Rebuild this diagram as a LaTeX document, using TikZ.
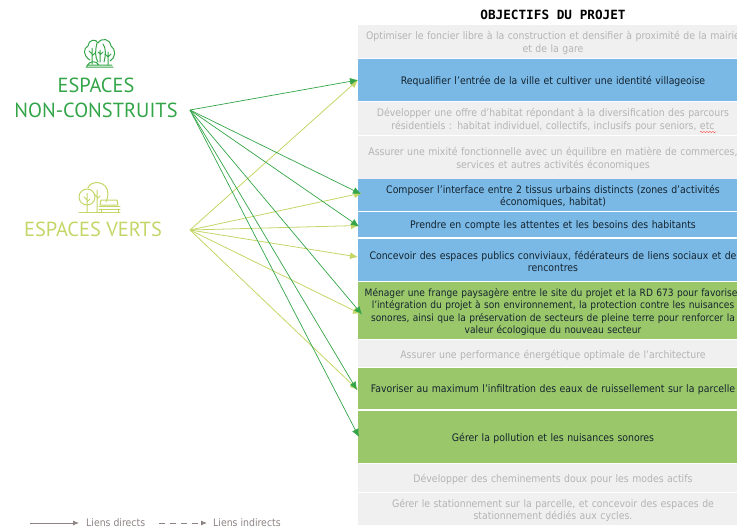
\documentclass[tikz,border=0pt]{standalone}
\usepackage{fontspec}
\usepackage{xcolor}
\setmainfont{DejaVu Sans Condensed}
\newfontfamily\titlefont{DejaVu Sans Mono}
\newfontfamily\headfont{PT Sans}
\usetikzlibrary{arrows.meta,positioning,decorations.pathmorphing}
\definecolor{rowgrey}{HTML}{F0F0F0}
\definecolor{rowblue}{HTML}{7AB8E6}
\definecolor{rowgreen}{HTML}{9BC76B}
\definecolor{txtgrey}{HTML}{B4B4B4}
\definecolor{txtdark}{HTML}{14242E}
\definecolor{darkgreen}{HTML}{33A548}
\definecolor{lightgreen}{HTML}{C3D667}
\definecolor{legendgrey}{HTML}{8E8484}

\begin{document}
\begin{tikzpicture}[x=1pt,y=-1pt,
    objrow/.style={minimum width=390pt,text width=390pt,align=center,inner sep=0pt,outer sep=0pt,
      font=\fontsize{10.4}{12.2}\selectfont,anchor=north west,
      execute at begin node={\leavevmode\vadjust pre{\vskip 3pt}}},
    offrow/.style={objrow,fill=rowgrey,text=txtgrey},
    bluerow/.style={objrow,fill=rowblue,text=txtdark},
    greenrow/.style={objrow,fill=rowgreen,text=txtdark},
    heading/.style={align=center,font=\headfont\fontsize{20.4}{25}\selectfont},
    dlink/.style={->,>={Latex[length=8pt,width=7pt]},darkgreen,line width=0.7pt},
    llink/.style={->,>={Latex[length=8pt,width=7pt]},lightgreen,line width=0.8pt},
    legendline/.style={->,>={Latex[length=6pt,width=5pt]},legendgrey,line width=0.8pt},
    legendtext/.style={text=legendgrey,font=\fontsize{10.4}{12}\selectfont,inner sep=0pt,anchor=west}]

    \useasboundingbox (0,0) rectangle (737,528);

    \node[font=\titlefont\bfseries\fontsize{12.7}{14}\selectfont] (title) at (553,14.5) {OBJECTIFS DU PROJET};

    % objectives, top to bottom
    \node[offrow,minimum height=33pt] (opt) at (358,25) {Optimiser le foncier libre à la construction et densifier à proximité de la mairie\\et de la gare};
    \node[bluerow,minimum height=42pt,below=1pt of opt.south west,anchor=north west] (req) {Requalifier l’entrée de la ville et cultiver une identité villageoise};
    \node[offrow,minimum height=33pt,below=1pt of req.south west,anchor=north west] (hab) {Développer une offre d’habitat répondant à la diversification des parcours\\résidentiels : habitat individuel, collectifs, inclusifs pour seniors, etc};
    \node[offrow,minimum height=43pt,below=1pt of hab.south west,anchor=north west] (mix) {Assurer une mixité fonctionnelle avec un équilibre en matière de commerces,\\services et autres activités économiques};
    \node[bluerow,minimum height=32pt,below=0pt of mix.south west,anchor=north west] (iface) {Composer l’interface entre 2 tissus urbains distincts (zones d’activités\\économiques, habitat)};
    \node[bluerow,minimum height=25pt,below=1pt of iface.south west,anchor=north west] (att) {Prendre en compte les attentes et les besoins des habitants};
    \node[bluerow,minimum height=42pt,below=2pt of att.south west,anchor=north west] (pub) {Concevoir des espaces publics conviviaux, fédérateurs de liens sociaux et de\\rencontres};
    \node[greenrow,minimum height=57pt,below=1pt of pub.south west,anchor=north west,font=\fontsize{10.1}{12.2}\selectfont] (fra) {Ménager une frange paysagère entre le site du projet et la RD 673 pour favoriser\\l’intégration du projet à son environnement, la protection contre les nuisances\\sonores, ainsi que la préservation de secteurs de pleine terre pour renforcer la\\valeur écologique du nouveau secteur};
    \node[offrow,minimum height=27pt,below=1pt of fra.south west,anchor=north west] (perf) {Assurer une performance énergétique optimale de l’architecture};
    \node[greenrow,minimum height=41pt,below=1pt of perf.south west,anchor=north west] (inf) {Favoriser au maximum l’infiltration des eaux de ruissellement sur la parcelle};
    \node[greenrow,minimum height=52pt,below=2pt of inf.south west,anchor=north west] (pol) {Gérer la pollution et les nuisances sonores};
    \node[offrow,minimum height=28pt,below=1pt of pol.south west,anchor=north west] (doux) {Développer des cheminements doux pour les modes actifs};
    \node[offrow,minimum height=32pt,below=1pt of doux.south west,anchor=north west] (stat) {Gérer le stationnement sur la parcelle, et concevoir des espaces de\\stationnement dédiés aux cycles.};

    \draw[red,line width=0.3pt,decorate,decoration={snake,amplitude=0.5pt,segment length=3pt}] (700,132) -- (716,132);

    % the two themes
    \node[heading,text=darkgreen] (nc) at (96,98) {ESPACES\\NON-CONSTRUITS};
    \node[heading,text=lightgreen] (ev) at (93,229.5) {ESPACES VERTS};
    \coordinate (ncout) at (190,110);
    \coordinate (evout) at (190,230);

    % tree icon
    \begin{scope}[darkgreen,line width=1pt,line cap=round,line join=round]
      \draw (90,60) .. controls (83,56) and (83,48) .. (88,46) .. controls (88,40) and (96,38) .. (98,43) .. controls (102,37) and (110,39) .. (111,46) .. controls (116,49) and (116,58) .. (110,61);
      \draw (97,43) .. controls (95,50) and (95,58) .. (98,62);
      \draw (104,62) .. controls (106,55) and (106,48) .. (103,44);
      \draw (92,48) -- (92,64) (92,54) -- (89,51) (92,56) -- (95,53);
      \draw (100,50) -- (100,62) (100,54) -- (98,52) (100,55) -- (103,52);
      \draw (108,52) -- (108,65) (108,57) -- (105,54) (108,57) -- (111,54);
      \draw (87,66) .. controls (89,61) and (96,60) .. (99,65) (87,65) -- (112,65) (86,67) -- (113,67);
    \end{scope}

    % park icon
    \begin{scope}[lightgreen,line width=1pt,line cap=round,line join=round]
      \draw (87,197) circle (8);
      \draw (88,188) .. controls (90,180) and (108,180) .. (108,194) .. controls (108,197) and (107,200) .. (106,202);
      \draw (87,193) -- (87,212) (87,200) -- (84,197) (87,202) -- (90,199);
      \draw (97,190) -- (97,212) (97,197) -- (94,194) (97,199) -- (100,196);
      \draw (101,200) -- (117,200) -- (118,205) -- (100,205) -- cycle;
      \draw (99,206.5) -- (120,206.5) (99,209) -- (120,209);
      \draw (101,209) -- (101,212) (118,209) -- (118,212);
      \draw (79,212) -- (120,212);
    \end{scope}

    % links
    \draw[llink] (evout) -- (req.west);
    \draw[llink] (evout) -- ([xshift=4pt,yshift=2pt]iface.west);
    \draw[llink] (evout) -- ([xshift=1pt,yshift=-1pt]att.west);
    \draw[llink] (evout) -- ([yshift=3pt]pub.west);
    \draw[llink] (evout) -- ([xshift=3pt,yshift=-3.5pt]fra.west);
    \draw[llink] (evout) -- ([yshift=-1.5pt]inf.west);

    \draw[dlink] (ncout) -- (req.west);
    \draw[dlink] (ncout) -- ([xshift=3pt,yshift=1pt]iface.west);
    \draw[dlink] (ncout) -- ([xshift=1pt,yshift=-2pt]att.west);
    \draw[dlink] (ncout) -- ([xshift=4pt,yshift=-4pt]fra.west);
    \draw[dlink] (ncout) -- ([xshift=-1pt,yshift=-1.5pt]inf.west);
    \draw[dlink] (ncout) -- ([xshift=1pt]pol.west);

    % legend
    \coordinate (a1) at (30,523);
    \coordinate (a2) at (79,523);
    \coordinate (b1) at (159,523);
    \coordinate (b2) at (207,523);
    \draw[legendline] (a1) -- (a2);
    \draw[legendline,dash pattern=on 6pt off 5pt] (b1) -- (b2);
    \node[legendtext] (ld) at (86,523) {Liens directs};
    \node[legendtext] (li) at (213,523) {Liens indirects};
\end{tikzpicture}
\end{document}
